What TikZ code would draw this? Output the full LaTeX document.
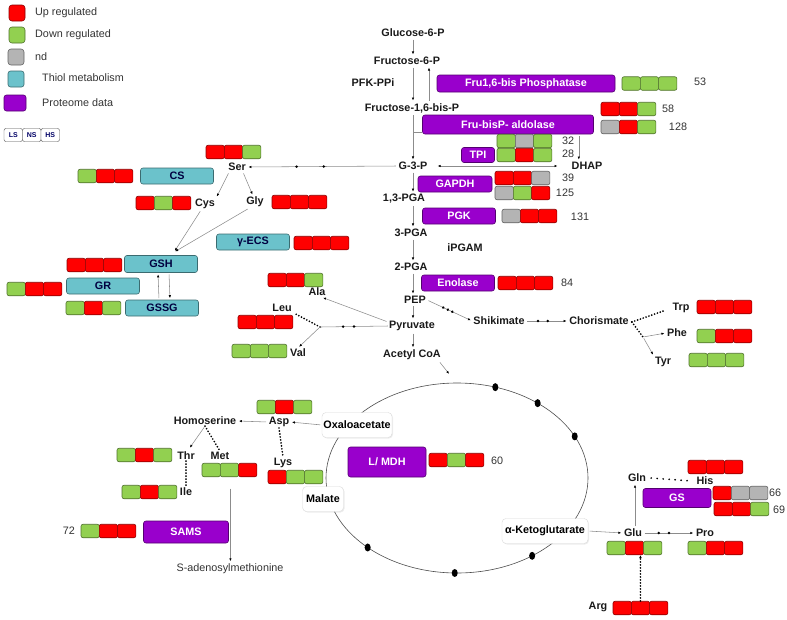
\documentclass[tikz,border=0pt]{standalone}
\usepackage{fontspec}
\setmainfont{Liberation Sans}
\usetikzlibrary{arrows.meta,positioning,calc,shadows,decorations.markings}

\definecolor{up}{RGB}{255,0,0}
\definecolor{down}{RGB}{146,208,80}
\definecolor{nd}{RGB}{180,180,180}
\definecolor{thiolcyan}{RGB}{107,194,203}
\definecolor{protpurple}{RGB}{153,0,204}
\definecolor{linegray}{RGB}{140,140,140}

\newcommand{\diafont}{\fontsize{10.8}{12}\selectfont}
% row of three small regulation boxes: name, left x, centre y, colours
\newcommand{\cellrow}[4]{%
  \foreach \col [count=\i] in {#4}
    \node[cell=\col, name=#1-\i] at ({#2+(\i-0.5)*18.3},#3) {};}

\tikzset{
  met/.style={font=\diafont\bfseries, text=black!90, inner sep=1pt},
  num/.style={font=\diafont, text=black!80, inner sep=1pt},
  cell/.style={draw=#1!55!black, fill=#1, line width=0.6pt, rounded corners=2pt,
    minimum width=18.3pt, minimum height=13.5pt, inner sep=0pt},
  enz/.style={draw=protpurple!55!black, fill=protpurple, text=white, font=\diafont\bfseries,
    rounded corners=2.5pt, line width=0.6pt, inner sep=0pt},
  thiol/.style={draw=thiolcyan!55!black, fill=thiolcyan, text=black!75!blue, font=\diafont\bfseries,
    rounded corners=2.5pt, line width=0.6pt, inner sep=0pt, minimum width=73pt, minimum height=16pt},
  tca/.style={draw=black!15, fill=white, font=\diafont\bfseries, rounded corners=4pt, inner sep=0pt,
    minimum height=25pt, drop shadow={opacity=0.15, shadow xshift=1pt, shadow yshift=-1pt}},
  stress/.style={draw=black!70, fill=white, rounded corners=2pt, minimum width=18.5pt,
    minimum height=13pt, inner sep=0pt, font=\fontsize{7}{8}\selectfont\bfseries, text=blue!40!black},
  flow/.style={draw=linegray, line width=0.55pt, shorten <=1.5pt, shorten >=1.5pt,
    -{Latex[length=3pt,width=2.4pt,color=black]}},
  beads/.style={draw=black, line width=1.9pt, line cap=round, dash pattern=on 0pt off 3pt},
  bead/.style={postaction={decorate,decoration={markings,
    mark=at position #1 with {\fill[black] (0,0) circle (1.4pt);}}}},
}

\begin{document}
\begin{tikzpicture}[x=1pt, y=-1pt]
  \useasboundingbox (0,0) rectangle (787,619);

  % legend
  \node[cell=up, minimum width=16pt, minimum height=16pt, rounded corners=3pt] (lgup) at (17,13) {};
  \node[num, anchor=west] (lgupt) at (34,13) {Up regulated};
  \node[cell=down, minimum width=16pt, minimum height=16pt, rounded corners=3pt] (lgdown) at (17,35) {};
  \node[num, anchor=west] (lgdownt) at (34,35) {Down regulated};
  \node[cell=nd, minimum width=16pt, minimum height=16pt, rounded corners=3pt] (lgnd) at (16,57) {};
  \node[num, anchor=west] (lgndt) at (34,57) {nd};
  \node[thiol, minimum width=16pt, minimum height=16pt] (lgthiol) at (16,79) {};
  \node[num, anchor=west] (lgthiolt) at (41,78) {Thiol metabolism};
  \node[enz, minimum width=22pt, minimum height=16pt] (lgprot) at (15,103) {};
  \node[num, anchor=west] (lgprott) at (41,103) {Proteome data};
  \foreach \lab [count=\i] in {LS,NS,HS}
    \node[stress, name=st\i] at ({4+(\i-0.5)*18.5},135) {\lab};

  % glycolysis
  \node[met] (g6p) at (413,33) {Glucose-6-P};
  \node[met] (f6p) at (407,61) {Fructose-6-P};
  \node[met] (pfk) at (373,83) {PFK-PPi};
  \node[met] (f16bp) at (412,108) {Fructose-1,6-bis-P};
  \node[met] (g3p) at (413,166) {G-3-P};
  \node[met] (dhap) at (587,166) {DHAP};
  \node[met] (pga13) at (404,199) {1,3-PGA};
  \node[met] (pga3) at (411,233) {3-PGA};
  \node[met] (ipgam) at (465,248) {iPGAM};
  \node[met] (pga2) at (411,267) {2-PGA};
  \node[met] (pep) at (415,300) {PEP};
  \node[met] (pyr) at (412,326) {Pyruvate};
  \node[met] (acoa) at (412,355) {Acetyl CoA};

  \node[enz, minimum width=178pt, minimum height=17pt] (fbpase) at (526,83.5) {Fru1,6-bis Phosphatase};
  \node[enz, minimum width=171pt, minimum height=19pt] (aldo) at (508,124.5) {Fru-bisP- aldolase};
  \node[enz, minimum width=33pt, minimum height=15pt] (tpi) at (478,155) {TPI};
  \node[enz, minimum width=74pt, minimum height=16pt] (gapdh) at (455,184) {GAPDH};
  \node[enz, minimum width=73pt, minimum height=16pt] (pgk) at (459,216) {PGK};
  \node[enz, minimum width=73pt, minimum height=16pt] (eno) at (458,283) {Enolase};

  \cellrow{fbp}{622}{83.5}{down,down,down}
  \node[num] (n53) at (700,82) {53};
  \cellrow{aldA}{601}{109}{up,up,down}
  \node[num] (n58) at (668,109) {58};
  \cellrow{aldB}{601}{127}{nd,up,down}
  \node[num] (n128) at (678,127) {128};
  \cellrow{tpiA}{497}{141}{down,nd,down}
  \node[num] (n32) at (568,141) {32};
  \cellrow{tpiB}{497}{155}{down,up,down}
  \node[num] (n28) at (568,154) {28};
  \cellrow{gapA}{495}{178}{up,up,nd}
  \node[num] (n39) at (568,178) {39};
  \cellrow{gapB}{495}{193}{nd,down,up}
  \node[num] (n125) at (565,193) {125};
  \cellrow{pgk}{502}{216}{nd,up,up}
  \node[num] (n131) at (580,217) {131};
  \cellrow{eno}{498}{283}{up,up,up}
  \node[num] (n84) at (567,283) {84};

  \draw[flow] (g6p.south) -- (f6p.north -| g6p);
  \draw[flow] (f6p.south -| g6p) -- (f16bp.north -| g6p);
  \draw[flow] ($(f16bp.north -| g6p)+(16,0)$) -- ($(f6p.south -| g6p)+(16,0)$);
  \draw[flow] (f16bp.south -| g6p) -- (g3p.north -| g6p);
  \draw[draw=linegray, line width=0.55pt] ($(aldo.south west)+(0,-2)$) -- ($(aldo.south west)+(-9,-2)$);
  \coordinate (aldoout) at ($(aldo.south east)+(-15,0)$);
  \draw[flow] (aldoout) -- (aldoout |- dhap.north);
  \draw[flow, {Latex[length=3pt,width=2.4pt,color=black]}-{Latex[length=3pt,width=2.4pt,color=black]},
    shorten <=9pt, shorten >=13pt] (g3p.east) -- (dhap.west);
  \draw[flow] (g3p.south -| g6p) -- (pga13.north -| g6p);
  \draw[flow] (pga13.south -| g6p) -- (pga3.north -| g6p);
  \draw[flow] (pga3.south -| g6p) -- (pga2.north -| g6p);
  \draw[flow] (pga2.south -| g6p) -- (pep.north -| g6p);
  \draw[flow] (pep.south -| g6p) -- (pyr.north -| g6p);
  \draw[flow] (pyr.south -| g6p) -- (acoa.north -| g6p);

  % serine and thiol metabolism
  \node[met] (ser) at (237,167) {Ser};
  \node[met] (cys) at (205,204) {Cys};
  \node[met] (gly) at (255,202) {Gly};
  \node[thiol] (cs) at (177,176) {CS};
  \node[thiol] (gecs) at (253,242) {γ-ECS};
  \node[thiol, minimum height=17pt] (gsh) at (161,264) {GSH};
  \node[thiol] (gr) at (103,286) {GR};
  \node[thiol] (gssg) at (162,308) {GSSG};
  \cellrow{ser}{206}{152}{up,up,down}
  \cellrow{cs}{78}{176}{down,up,up}
  \cellrow{cys}{136}{203}{up,down,up}
  \cellrow{gly}{272}{202}{up,up,up}
  \cellrow{gecs}{294}{243}{up,up,up}
  \cellrow{gsh}{67}{265}{up,up,up}
  \cellrow{gr}{7}{289}{down,up,up}
  \cellrow{gssg}{66}{308}{down,up,down}

  \draw[flow, bead=.49, bead=.67] (g3p.west) -- (ser.east);
  \draw[flow] ([xshift=2pt]ser.south west) -- (cys.north east);
  \draw[flow] ([xshift=-4pt]ser.south east) -- ([xshift=-2pt]gly.north);
  \coordinate (gshin) at ($(gsh.north)+(13,-3)$);
  \draw[flow] ([xshift=-4pt]cys.south) -- (gshin);
  \draw[flow] ([xshift=-6pt]gly.south) -- (gshin);
  \draw[flow] ([xshift=-3pt]gssg.north) -- ([xshift=-3pt]gsh.south);
  \draw[flow] ([xshift=8pt]gsh.south) -- ([xshift=8pt]gssg.north);

  % pyruvate family
  \node[met] (ala) at (317,292) {Ala};
  \node[met] (leu) at (282,308) {Leu};
  \node[met] (val) at (298,353) {Val};
  \cellrow{ala}{268}{280}{up,up,down}
  \cellrow{leu}{238}{322}{up,up,up}
  \cellrow{val}{232}{351}{down,down,down}
  \coordinate (bcaa) at (320,327);
  \draw[flow] ([yshift=4pt]pyr.west) -- ([xshift=-5pt]ala.south east);
  \draw[draw=linegray, line width=0.55pt, bead=.5, bead=.66] (pyr.west) -- (bcaa);
  \draw[beads] (bcaa) -- ($(leu.south east)+(1,0)$);
  \draw[flow] (bcaa) -- (val.north);

  % shikimate pathway
  \node[met] (shik) at (499,321) {Shikimate};
  \node[met] (chor) at (599,321) {Chorismate};
  \node[met] (trp) at (681,308) {Trp};
  \node[met] (phe) at (677,333) {Phe};
  \node[met] (tyr) at (663,362) {Tyr};
  \cellrow{trp}{697}{307}{up,up,up}
  \cellrow{phe}{697}{336}{down,up,up}
  \cellrow{tyr}{689}{360}{down,down,down}
  \draw[flow, bead=.36, bead=.46, bead=.56] (pep.east) -- (shik.west);
  \draw[flow, bead=.29, bead=.52] (shik.east) -- (chor.west);
  \coordinate (aro) at ($(chor.east)+(2,1)$);
  \coordinate (aro2) at (643,337);
  \draw[beads] (aro) -- ($(trp.west)+(-8,3)$);
  \draw[beads] (aro) -- (aro2);
  \draw[flow] (aro2) -- (phe.west);
  \draw[flow] (aro2) -- (tyr.north west);

  % TCA cycle
  \coordinate (tcain) at (450,375);
  \draw[flow] ([xshift=-3pt]acoa.south east) -- (tcain);
  \draw[black!70, line width=0.6pt] (457,478) ellipse [x radius=131, y radius=95];
  \foreach \a in {73,52,26,-55,-91,-133}
    \fill[black] ({457+131*cos(\a)},{478-95*sin(\a)}) ellipse [x radius=3, y radius=4];
  \node[tca, minimum width=70pt] (oaa) at (357,425) {Oxaloacetate};
  \node[tca, minimum width=41pt] (mal) at (323,499) {Malate};
  \node[tca, minimum width=86pt] (akg) at (545,531) {α-Ketoglutarate};
  \node[enz, minimum width=78pt, minimum height=30pt] (mdh) at (387,462) {L/ MDH};
  \cellrow{mdh}{429}{460}{up,down,up}
  \node[num] (n60) at (497,461) {60};

  % aspartate family
  \node[met] (asp) at (279,422) {Asp};
  \node[met] (hser) at (205,421) {Homoserine};
  \node[met] (thr) at (186,456) {Thr};
  \node[met] (met) at (220,456) {Met};
  \node[met] (ile) at (186,492) {Ile};
  \node[met] (lys) at (283,463) {Lys};
  \node[num] (sam) at (230,569) {S-adenosylmethionine};
  \node[enz, minimum width=85pt, minimum height=22pt] (sams) at (186,532) {SAMS};
  \cellrow{asp}{257}{407}{down,up,down}
  \cellrow{thr}{117}{455}{down,up,down}
  \cellrow{met}{202}{470}{down,down,up}
  \cellrow{ile}{122}{492}{down,up,down}
  \cellrow{lys}{268}{477}{up,down,down}
  \cellrow{sams}{81}{531}{down,up,up}
  \node[num] (n72) at (69,531) {72};
  \draw[flow] (oaa.west) -- (asp.east);
  \draw[flow] (asp.west) -- (hser.east);
  \coordinate (hbr) at (hser.south);
  \draw[flow] (hbr) -- ($(thr.north)+(3,-2)$);
  \draw[beads] (hbr) -- (met.north);
  \draw[beads] (thr.south) -- (ile.north);
  \draw[beads] (asp.south) -- (lys.north);
  \coordinate (samout) at ($(met-2.south)+(1,10)$);
  \draw[flow] (samout) -- (samout |- sam.north);

  % glutamate family
  \node[met] (glu) at (633,533) {Glu};
  \node[met] (gln) at (637,478) {Gln};
  \node[met] (his) at (705,481) {His};
  \node[met] (pro) at (705,533) {Pro};
  \node[met] (arg) at (598,607) {Arg};
  \node[enz, minimum width=68pt, minimum height=19pt] (gs) at (677,498) {GS};
  \cellrow{his}{688}{467}{up,up,up}
  \cellrow{gsA}{713}{493}{up,nd,nd}
  \node[num] (n66) at (775,493) {66};
  \cellrow{gsB}{714}{509}{up,up,down}
  \node[num] (n69) at (779,510) {69};
  \cellrow{glu}{607}{548}{down,up,down}
  \cellrow{pro}{688}{548}{down,up,up}
  \cellrow{arg}{613}{608}{up,up,up}
  \draw[flow] (akg.east) -- (glu.west);
  \draw[flow] ([xshift=2pt]glu.north) -- ([xshift=2pt]glu.north |- gln.south);
  \draw[beads, dash pattern=on 0pt off 6pt] ([xshift=4pt]gln.east) -- ([xshift=-4pt]his.west);
  \draw[flow, bead=.3, bead=.5] (glu.east) -- (pro.west);
  \draw[beads, -{Latex[length=3pt,width=2.6pt]}] (arg-2.north) -- (arg-2.north |- glu-2.south);
\end{tikzpicture}
\end{document}
